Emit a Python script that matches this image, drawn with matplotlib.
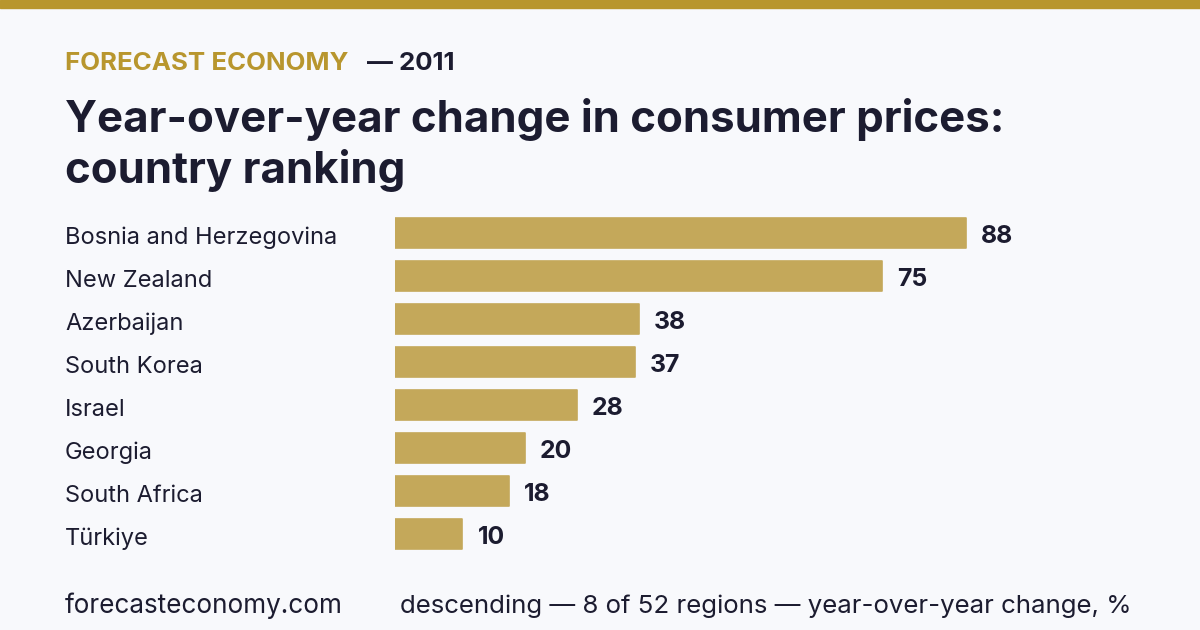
import matplotlib.pyplot as plt
from matplotlib.transforms import blended_transform_factory

# Données
pays = ["Bosnia and Herzegovina", "New Zealand", "Azerbaijan", "South Korea",
        "Israel", "Georgia", "South Africa", "Türkiye"]
valeurs = [88, 75, 37.6, 37, 28, 20, 17.5, 10.4]

surtitre = "FORECAST ECONOMY"
annee = "— 2011"
titre = ["Year-over-year change in consumer prices:", "country ranking"]
source = "forecasteconomy.com"
note = "descending — 8 of 52 regions — year-over-year change, %"

fond = "#f8f9fc"
or_fonce = "#b8962e"
or_barre = "#c4a85a"
encre = "#1c1c30"

plt.rcParams['font.family'] = ['Inter', 'DejaVu Sans']

W, H = 1200, 630
fig = plt.figure(figsize=(12, 6.3), dpi=100, facecolor=fond)

# axe de fond en pixels pour les textes
bg = fig.add_axes([0, 0, 1, 1])
bg.set_xlim(0, W)
bg.set_ylim(H, 0)
bg.axis('off')
bg.axhspan(0, 8, color=or_fonce)

bg.text(65, 70, surtitre, color=or_fonce, fontsize=18.6, fontweight='bold', va='baseline')
bg.text(367, 70, annee, color=encre, fontsize=18.6, fontweight='bold', va='baseline')
bg.text(65, 132, titre[0], color=encre, fontsize=31.5, fontweight='bold', va='baseline')
bg.text(65, 183, titre[1], color=encre, fontsize=31.5, fontweight='bold', va='baseline')
bg.text(65, 613, source, color=encre, fontsize=18.8, va='baseline')
bg.text(400, 613, note, color=encre, fontsize=18.6, va='baseline')

# axe des barres : 6.49 px par unité, centres à 233 + 43 i
px_unite = 6.49
g, d = 395, 1100
haut, bas = 211.5, 555.5
ax = fig.add_axes([g / W, 1 - bas / H, (d - g) / W, (bas - haut) / H])
ax.set_xlim(0, (d - g) / px_unite)
ax.set_ylim(len(pays) - 0.5, -0.5)
ax.axis('off')

pos = range(len(pays))
ax.barh(pos, valeurs, height=0.7, color=or_barre, edgecolor=or_barre,
        linewidth=1.2, joinstyle='round')

trans = blended_transform_factory(fig.transFigure, ax.transData)
for i, (p, v) in enumerate(zip(pays, valeurs)):
    ax.annotate(p, (65 / W, i), xycoords=trans, xytext=(0, -7.9),
                textcoords='offset points', color=encre, fontsize=17,
                va='baseline')
    ax.annotate(f"{v:.0f}", (v, i), xytext=(10.8, -7.2), textcoords='offset points',
                color=encre, fontsize=17.8, fontweight='bold', va='baseline')

fig.savefig("out.png", dpi=100, facecolor=fond)
